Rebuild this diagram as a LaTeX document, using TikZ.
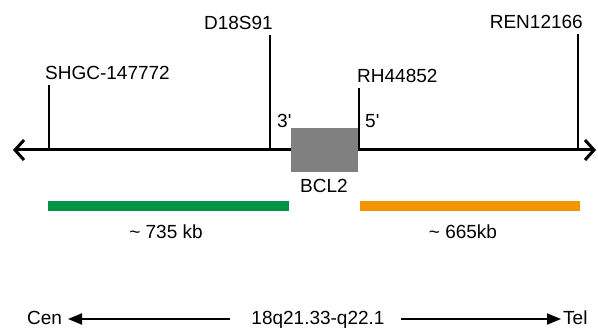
\documentclass[tikz,border=0pt]{standalone}
\usepackage{fontspec}
\setmainfont{Liberation Sans}
\usetikzlibrary{arrows.meta}
\definecolor{bargreen}{RGB}{0,148,68}
\definecolor{barorange}{RGB}{243,148,0}
\definecolor{genegray}{RGB}{128,128,128}
\tikzset{ lbl/.style = { inner sep = 0pt
                       , font      = \fontsize{19}{22}\selectfont
                       },
          tck/.style = { draw       = black
                       , line width = 2pt
                       , shorten >  = 5pt
                       },
          kb/.style  = { line width = 10pt
                       },
          chr/.style = { line width = 3pt
                       , {Straight Barb[length=9pt,width=20pt]}-{Straight Barb[length=9pt,width=20pt]}
                       },
          ori/.style = { line width = 2pt
                       , -{Triangle[length=14pt,width=11pt]}
                       }
        }

\begin{document}
\begin{tikzpicture}[x=1pt, y=-1pt]
            \useasboundingbox (0,0) rectangle (598,331);
            % chromosome line
            \coordinate (cen) at (13,150);
            \coordinate (tel) at (596,150);
            \draw[chr] (cen) -- (tel);
            % markers
            \coordinate (m1) at (49,150);
            \coordinate (m2) at (270,150);
            \coordinate (m3) at (359,150);
            \coordinate (m4) at (578,150);
            \node[lbl, anchor=base west] (shgc) at (45,80)  {SHGC-147772};
            \node[lbl, anchor=base east] (d18)  at (273,30) {D18S91};
            \node[lbl, anchor=base west] (rh)   at (357,83) {RH44852};
            \node[lbl, anchor=base east] (ren)  at (583,29) {REN12166};
            \draw[tck] (m1) -- (m1 |- shgc.south);
            \draw[tck] (m2) -- (m2 |- d18.south);
            \draw[tck] (m3) -- (m3 |- rh.south);
            \draw[tck] (m4) -- (m4 |- ren.south);
            % gene
            \node[fill=genegray, minimum width=67pt, minimum height=44pt, inner sep=0pt] (bcl) at (324.5,150) {};
            \node[lbl, anchor=base]      (bcllbl) at (324,193) {BCL2};
            \node[lbl, anchor=base west] (p3)     at (277,128) {3\textquotesingle};
            \node[lbl, anchor=base west] (p5)     at (365,128) {5\textquotesingle};
            % distances
            \coordinate (g1) at (48,206);
            \coordinate (g2) at (289,206);
            \coordinate (o1) at (360,206);
            \coordinate (o2) at (580,206);
            \draw[kb, bargreen]  (g1) -- (g2);
            \draw[kb, barorange] (o1) -- (o2);
            \node[lbl, anchor=base] (d735) at (166,239) {\textasciitilde\ 735 kb};
            \node[lbl, anchor=base] (d665) at (463,239) {\textasciitilde\ 665kb};
            % orientation
            \node[lbl, anchor=base west] (cenlbl) at (27,325)  {Cen};
            \node[lbl, anchor=base]      (band)   at (318,325) {18q21.33-q22.1};
            \node[lbl, anchor=base west] (tellbl) at (563,325) {Tel};
            \coordinate (a1) at (230,319);
            \coordinate (a2) at (68,319);
            \coordinate (a3) at (401,319);
            \coordinate (a4) at (561,319);
            \draw[ori] (a1) -- (a2);
            \draw[ori] (a3) -- (a4);
        \end{tikzpicture}
\end{document}
